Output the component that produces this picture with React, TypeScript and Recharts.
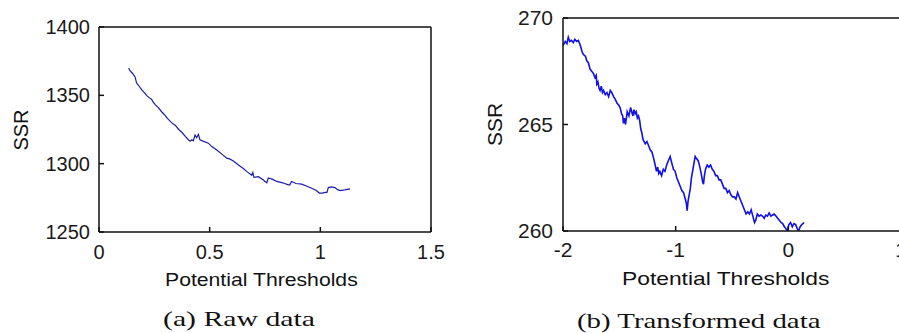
import React from "react";
import { LineChart, Line, XAxis, YAxis } from "recharts";

// (a) raw data
const rawX = [
  0.134, 0.14, 0.152, 0.163, 0.17, 0.18, 0.193, 0.205, 0.215, 0.225, 0.238, 0.245, 0.255, 0.268, 0.283,
  0.295, 0.31, 0.328, 0.345, 0.36, 0.374, 0.39, 0.404, 0.412, 0.419, 0.426, 0.434, 0.441, 0.449, 0.456,
  0.47, 0.494, 0.51, 0.532, 0.555, 0.577, 0.59, 0.607, 0.63, 0.652, 0.67, 0.69, 0.695, 0.7, 0.72, 0.743,
  0.75, 0.758, 0.765, 0.785, 0.803, 0.83, 0.855, 0.862, 0.87, 0.89, 0.916, 0.94, 0.961, 0.98, 0.996,
  1.01, 1.022, 1.03, 1.036, 1.05, 1.066, 1.078, 1.089, 1.11, 1.134,
];
const rawSSR = [
  1370, 1368, 1366, 1363.5, 1359, 1357, 1354, 1352, 1350, 1348.5, 1347, 1345, 1343, 1341, 1338,
  1336, 1333, 1330, 1328, 1325, 1323, 1320, 1317.5, 1316.5, 1317.5, 1316.8, 1321, 1319, 1321.5, 1317.5,
  1316.5, 1315, 1312.5, 1310, 1307, 1304, 1303.5, 1302, 1299, 1296.5, 1294, 1291.5, 1293.5, 1290, 1290.5, 1288,
  1287, 1286, 1289.5, 1288.5, 1287, 1286, 1284.5, 1284.5, 1287, 1285.5, 1285, 1283.5, 1282, 1280.5, 1278.5,
  1278.5, 1279, 1279, 1282.5, 1283, 1282.5, 1281, 1280.3, 1280.8, 1281.5,
];
const rawXTicks = [0, 0.5, 1, 1.5];
const rawYTicks = [1250, 1300, 1350, 1400];

// (b) transformed data
const trX = [
  -2.0, -1.98, -1.965, -1.953, -1.94, -1.925, -1.909, -1.895, -1.88, -1.864, -1.845, -1.83, -1.82, -1.8,
  -1.79, -1.775, -1.76, -1.745, -1.73, -1.716, -1.705, -1.7, -1.69, -1.68, -1.671, -1.66, -1.65, -1.64,
  -1.625, -1.61, -1.595, -1.58, -1.567, -1.55, -1.538, -1.52, -1.505, -1.493, -1.48, -1.47, -1.464, -1.455,
  -1.445, -1.43, -1.415, -1.4, -1.39, -1.38, -1.37, -1.36, -1.35, -1.34, -1.33, -1.32, -1.31, -1.3, -1.29,
  -1.28, -1.27, -1.255, -1.24, -1.225, -1.21, -1.195, -1.182, -1.17, -1.16, -1.15, -1.14, -1.125, -1.11,
  -1.095, -1.08, -1.065, -1.049, -1.035, -1.02, -1.005, -0.99, -0.975, -0.96, -0.945, -0.93, -0.915, -0.905,
  -0.898, -0.89, -0.88, -0.87, -0.86, -0.85, -0.84, -0.827, -0.815, -0.8, -0.785, -0.77, -0.76, -0.753,
  -0.745, -0.735, -0.72, -0.705, -0.69, -0.675, -0.66, -0.645, -0.63, -0.615, -0.6, -0.585, -0.57, -0.555,
  -0.54, -0.525, -0.51, -0.495, -0.48, -0.465, -0.45, -0.435, -0.42, -0.405, -0.39, -0.375, -0.36, -0.345,
  -0.33, -0.315, -0.3, -0.29, -0.275, -0.26, -0.245, -0.23, -0.215, -0.2, -0.185, -0.17, -0.155, -0.14,
  -0.125, -0.11, -0.095, -0.08, -0.065, -0.05, -0.035, -0.02, -0.01, 0.005, 0.02, 0.035, 0.05, 0.065, 0.08,
  0.09, 0.105, 0.12, 0.14,
];
const trSSR = [
  268.7, 268.9, 268.8, 269.1, 268.9, 268.95, 268.85, 269.0, 268.9, 268.95, 268.7, 268.4, 268.3, 268.2,
  268.0, 267.9, 267.6, 267.5, 267.4, 267.2, 267.3, 266.9, 267.0, 266.7, 266.6, 266.8, 266.5, 266.6,
  266.4, 266.5, 266.3, 266.6, 266.5, 266.3, 266.2, 266.0, 265.9, 265.8, 265.5, 265.4, 265.05, 265.3,
  265.0, 265.6, 265.4, 265.8, 265.6, 265.4, 265.7, 265.5, 265.6, 265.3, 265.4, 265.2, 264.8, 264.6, 264.3,
  264.2, 264.1, 264.2, 264.0, 263.8, 263.7, 263.4, 263.1, 262.8, 263.0, 262.7, 262.8, 262.6, 262.9,
  262.8, 263.1, 263.3, 263.5, 263.2, 262.9, 262.8, 262.5, 262.3, 262.1, 261.9, 261.8, 261.5, 261.3,
  260.95, 261.4, 261.7, 262.0, 262.5, 262.8, 263.1, 263.5, 263.4, 263.3, 263.0, 262.6, 262.3, 262.2,
  262.6, 262.9, 263.1, 263.0, 263.1, 262.9, 262.8, 262.6, 262.6, 262.4, 262.4, 262.2, 262.0, 262.0,
  261.8, 261.9, 261.7, 261.6, 261.6, 261.5, 261.8, 261.6, 261.4, 261.2, 261.0, 260.8, 260.9, 260.8,
  261.0, 260.7, 260.4, 260.5, 260.8, 260.7, 260.75, 260.7, 260.6, 260.75, 260.7, 260.85, 260.7, 260.75,
  260.8, 260.7, 260.6, 260.5, 260.4, 260.35, 260.2, 260.1, 260.0, 260.3, 260.4, 260.2, 260.35, 260.3, 260.1,
  260.0, 260.2, 260.3, 260.4,
];
const trXTicks = [-2, -1, 0, 1];
const trYTicks = [260, 265, 270];

const rawData = rawX.map((x, i) => ({ x, y: rawSSR[i] }));
const trData = trX.map((x, i) => ({ x, y: trSSR[i] }));

const sans = "'Liberation Sans', Arial, sans-serif";
const serif = "'Liberation Serif', 'Times New Roman', serif";
const boxLine = { stroke: "#111", strokeWidth: 1.5 };

function Panel(props: {
  data: { x: number; y: number }[];
  xDomain: [number, number];
  yDomain: [number, number];
  xTicks: number[];
  yTicks: number[];
  width: number;
  margin: { top: number; right: number; bottom: number; left: number };
  color: string;
  lineWidth: number;
  fontSize: number;
  xTickMargin: number;
  yTickMargin: number;
}) {
  const tick = { fill: "#1a1a1a", fontSize: props.fontSize, fontFamily: sans };
  return (
    <LineChart width={props.width} height={333} data={props.data} margin={props.margin}>
      <XAxis
        dataKey="x"
        type="number"
        domain={props.xDomain}
        ticks={props.xTicks}
        allowDataOverflow
        tickSize={-5}
        tickMargin={props.xTickMargin}
        tick={tick}
        stroke="#111"
        axisLine={boxLine}
        tickLine={boxLine}
      />
      <XAxis
        xAxisId="top"
        orientation="top"
        dataKey="x"
        type="number"
        domain={props.xDomain}
        ticks={props.xTicks}
        allowDataOverflow
        height={1}
        tickSize={-5}
        tick={false}
        stroke="#111"
        axisLine={boxLine}
        tickLine={boxLine}
      />
      <YAxis
        yAxisId="left"
        dataKey="y"
        type="number"
        domain={props.yDomain}
        ticks={props.yTicks}
        allowDataOverflow
        tickSize={-5}
        tickMargin={props.yTickMargin}
        tick={tick}
        stroke="#111"
        axisLine={boxLine}
        tickLine={boxLine}
      />
      <YAxis
        yAxisId="right"
        orientation="right"
        dataKey="y"
        type="number"
        domain={props.yDomain}
        ticks={props.yTicks}
        allowDataOverflow
        width={1}
        tickSize={-5}
        tick={false}
        stroke="#111"
        axisLine={boxLine}
        tickLine={boxLine}
      />
      <Line
        yAxisId="left"
        dataKey="y"
        stroke={props.color}
        strokeWidth={props.lineWidth}
        dot={false}
        isAnimationActive={false}
      />
      <Line xAxisId="top" yAxisId="right" dataKey="y" stroke="none" dot={false} isAnimationActive={false} />
    </LineChart>
  );
}

// text placed by its left edge and baseline, stretched to a given width
function Txt(props: {
  children: string;
  left: number;
  baseline: number;
  size: number;
  family: string;
  ascent: number;
  scaleX?: number;
}) {
  return (
    <div
      style={{
        position: "absolute",
        left: props.left,
        top: props.baseline - props.ascent * props.size,
        fontSize: props.size,
        lineHeight: `${props.size}px`,
        fontFamily: props.family,
        color: "#111",
        whiteSpace: "nowrap",
        transformOrigin: "0 0",
        transform: `scaleX(${props.scaleX ?? 1})`,
      }}
    >
      {props.children}
    </div>
  );
}

// rotated axis title, centred on (cx, cy)
function YTitle(props: { cx: number; cy: number; size: number }) {
  return (
    <div
      style={{
        position: "absolute",
        left: props.cx - 40,
        top: props.cy - props.size / 2,
        width: 80,
        textAlign: "center",
        fontSize: props.size,
        lineHeight: `${props.size}px`,
        fontFamily: sans,
        color: "#111",
        transform: "rotate(-90deg)",
      }}
    >
      SSR
    </div>
  );
}

export default function App() {
  return (
    <div
      style={{
        position: "absolute",
        left: 0,
        top: 0,
        width: 899,
        height: 333,
        overflow: "hidden",
        background: "#fff",
      }}
    >
      <div style={{ position: "absolute", left: 0, top: 0 }}>
        <Panel
          data={rawData}
          xDomain={[0, 1.5]}
          yDomain={[1250, 1400]}
          xTicks={rawXTicks}
          yTicks={rawYTicks}
          width={450}
          margin={{ top: 26, right: 18, bottom: 71, left: 39 }}
          color="#1c1ca8"
          lineWidth={1.2}
          fontSize={20}
          xTickMargin={18}
          yTickMargin={14}
        />
      </div>
      <div style={{ position: "absolute", left: 450, top: 0 }}>
        <Panel
          data={trData}
          xDomain={[-2, 1]}
          yDomain={[260, 270]}
          xTicks={trXTicks}
          yTicks={trYTicks}
          width={460}
          margin={{ top: 17, right: 8, bottom: 72, left: 53 }}
          color="#1010e8"
          lineWidth={1.6}
          fontSize={21}
          xTickMargin={16}
          yTickMargin={15}
        />
      </div>
      <YTitle cx={20.5} cy={130} size={20} />
      <YTitle cx={493.5} cy={124} size={21} />
      <Txt left={165} baseline={286} size={19} family={sans} ascent={0.8465} scaleX={1.115}>
        Potential Thresholds
      </Txt>
      <Txt left={622} baseline={285} size={19} family={sans} ascent={0.8465} scaleX={1.2}>
        Potential Thresholds
      </Txt>
      <Txt left={163} baseline={327} size={21} family={serif} ascent={0.8375} scaleX={1.417}>
        (a) Raw data
      </Txt>
      <Txt left={577} baseline={329} size={21} family={serif} ascent={0.8375} scaleX={1.373}>
        (b) Transformed data
      </Txt>
    </div>
  );
}
